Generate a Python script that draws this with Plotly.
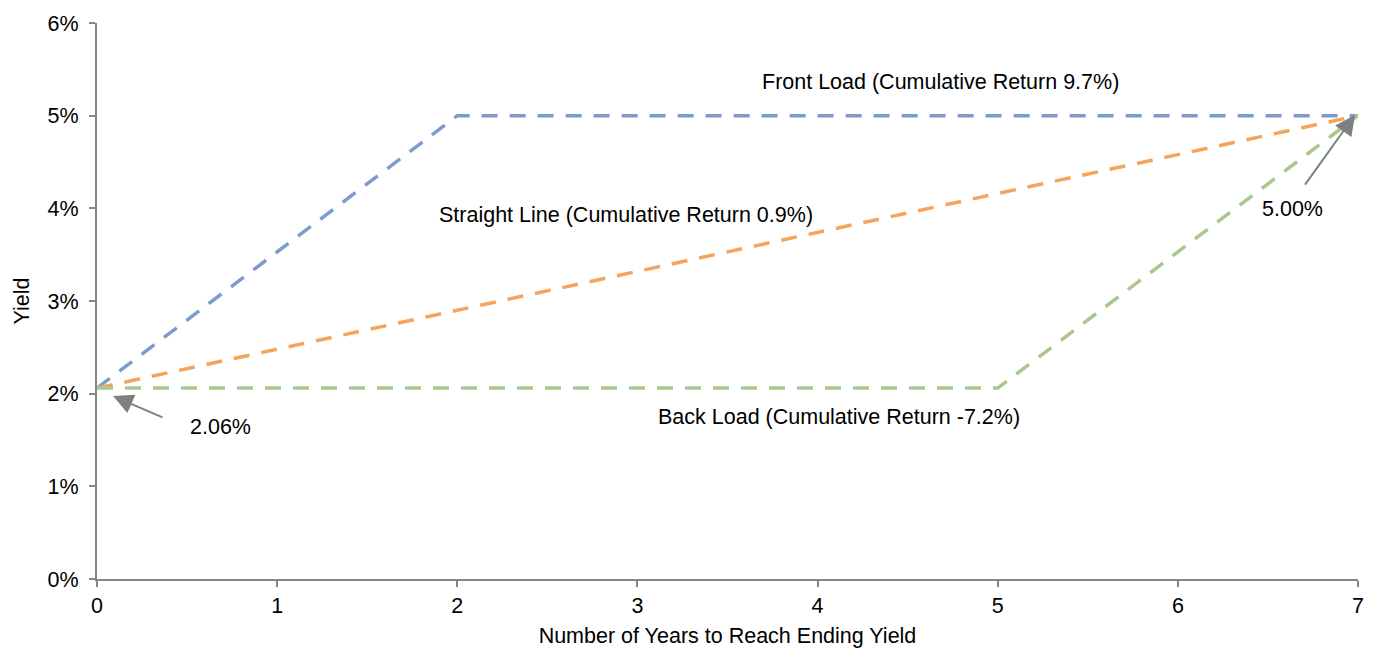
import plotly.graph_objects as go

years_front = [0, 2, 7]
yield_front = [2.06, 5.0, 5.0]
years_straight = [0, 7]
yield_straight = [2.06, 5.0]
years_back = [0, 5, 7]
yield_back = [2.06, 2.06, 5.0]

x_ticks = [0, 1, 2, 3, 4, 5, 6, 7]
y_ticks = [0, 1, 2, 3, 4, 5, 6]
y_tick_labels = [f"{v}%" for v in y_ticks]

FONT = "Liberation Sans, Arial, sans-serif"
FS = 21.5
DASH = "16px,12px"
LW = 3.5

fig = go.Figure()
fig.add_trace(go.Scatter(x=years_front, y=yield_front, mode="lines",
                         line=dict(color="#7E9BCE", width=LW, dash=DASH),
                         name="Front Load", hoverinfo="skip"))
fig.add_trace(go.Scatter(x=years_straight, y=yield_straight, mode="lines",
                         line=dict(color="#F6A35C", width=LW, dash=DASH),
                         name="Straight Line", hoverinfo="skip"))
fig.add_trace(go.Scatter(x=years_back, y=yield_back, mode="lines",
                         line=dict(color="#A8C88E", width=LW, dash=DASH),
                         name="Back Load", hoverinfo="skip"))

text_font = dict(family=FONT, size=FS, color="#000000")
annotations = [
    dict(x=4.685, y=5.36, text="Front Load (Cumulative Return 9.7%)"),
    dict(x=2.937, y=3.93, text="Straight Line (Cumulative Return 0.9%)"),
    dict(x=4.119, y=1.75, text="Back Load (Cumulative Return -7.2%)"),
    dict(x=0.683, y=1.64, text="2.06%"),
    dict(x=6.634, y=3.99, text="5.00%"),
]
for a in annotations:
    fig.add_annotation(x=a["x"], y=a["y"], text=a["text"], showarrow=False,
                       font=text_font, xanchor="center", yanchor="middle")

# arrows
arrows = [
    dict(x=0.089, y=1.975, ax=0.372, ay=1.737),
    dict(x=6.983, y=5.007, ax=6.70, ay=4.24),
]
for a in arrows:
    fig.add_annotation(x=a["x"], y=a["y"], ax=a["ax"], ay=a["ay"],
                       xref="x", yref="y", axref="x", ayref="y",
                       text="", showarrow=True, arrowhead=2, arrowsize=2,
                       arrowwidth=2, arrowcolor="#7F7F7F")

axis_common = dict(showgrid=False, zeroline=False, showline=True, automargin=False,
                   linecolor="#868686", linewidth=2, ticks="outside",
                   ticklen=6, tickwidth=2, tickcolor="#868686",
                   tickfont=dict(family=FONT, size=FS, color="#000000"))

fig.update_layout(
    width=1367, height=640,
    margin=dict(l=89, r=17, t=15, b=69),
    paper_bgcolor="white", plot_bgcolor="white",
    showlegend=False,
    font=dict(family=FONT, size=FS, color="#000000"),
    xaxis=dict(range=[0, 7], tickvals=x_ticks, ticktext=[str(v) for v in x_ticks],
               title=dict(text="Number of Years to Reach Ending Yield",
                          font=dict(family=FONT, size=FS, color="#000000"), standoff=12),
               **axis_common),
    yaxis=dict(range=[0, 6], tickvals=y_ticks, ticktext=y_tick_labels,
               ticklabelstandoff=6,
               title=dict(text="Yield", font=dict(family=FONT, size=FS, color="#000000"),
                          standoff=12),
               **axis_common),
)

fig.write_html("out.html")
